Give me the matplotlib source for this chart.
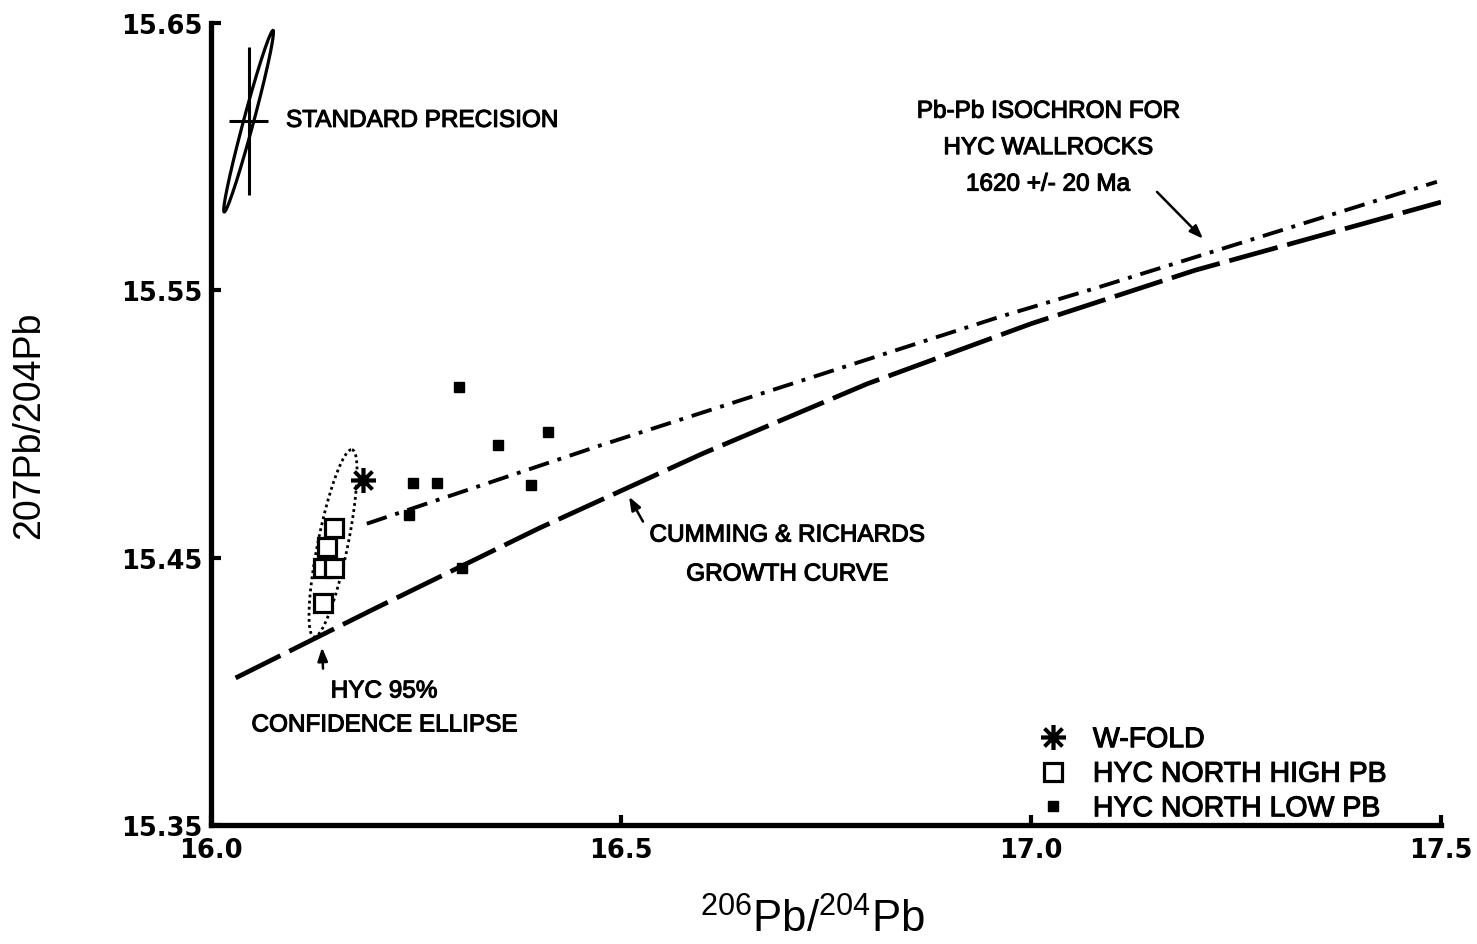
import numpy as np
import matplotlib
matplotlib.use("Agg")
import matplotlib.pyplot as plt
import matplotlib.patheffects as pe

# Cumming & Richards growth curve
growth_x = [16.03, 16.20, 16.40, 16.60, 16.80, 17.00, 17.20, 17.50]
growth_y = [15.405, 15.431, 15.461, 15.489, 15.515, 15.5375, 15.5575, 15.583]

# Pb-Pb isochron for HYC wallrocks
iso_x = [16.19, 16.474, 16.962, 17.084, 17.495]
iso_y = [15.4627, 15.4919, 15.5401, 15.5513, 15.5906]

# samples
wfold_x = [16.185]
wfold_y = [15.479]
high_x = [16.150, 16.141, 16.137, 16.150, 16.137]
high_y = [15.461, 15.454, 15.446, 15.446, 15.433]
low_x = [16.302, 16.350, 16.411, 16.246, 16.276, 16.390, 16.241, 16.306]
low_y = [15.514, 15.492, 15.497, 15.478, 15.478, 15.477, 15.466, 15.446]

# standard precision: centre, error bars, ellipse semi-axes (data units)
prec_center = (16.0458, 15.6132)
prec_err = (0.0238, 0.0277)
prec_major = (0.0297, 0.0339)
prec_minor = (0.0059, -0.0005)

# HYC 95% confidence ellipse
conf_center = (16.1488, 15.4554)
conf_major = (0.0232, 0.0350)
conf_minor = (0.0179, -0.0011)


def ellipse_xy(center, major, minor, n=300):
    t = np.linspace(0, 2 * np.pi, n)
    x = center[0] + np.cos(t) * major[0] + np.sin(t) * minor[0]
    y = center[1] + np.cos(t) * major[1] + np.sin(t) * minor[1]
    return x, y


plt.rcParams["mathtext.fontset"] = "custom"
plt.rcParams["mathtext.rm"] = "Liberation Sans"
plt.rcParams["mathtext.it"] = "Liberation Sans"

fig = plt.figure(figsize=(14.77, 9.45), dpi=100)
ax = fig.add_axes([0.14286, 0.12593, 0.83277, 0.84868])

ax.plot(growth_x, growth_y, color="black", lw=3.4, dashes=(10.6, 2.1))
ax.plot(iso_x, iso_y, color="black", lw=2.8, dashes=(5.4, 2.3, 1.0, 2.3))

ex, ey = ellipse_xy(conf_center, conf_major, conf_minor)
ax.plot(ex, ey, color="black", lw=2.0, dashes=(1, 1.2))

px, py = ellipse_xy(prec_center, prec_major, prec_minor)
ax.plot(px, py, color="black", lw=2.3, clip_on=False)
ax.errorbar([prec_center[0]], [prec_center[1]], xerr=[prec_err[0]], yerr=[prec_err[1]],
            fmt="none", ecolor="black", elinewidth=2.2, capsize=0, clip_on=False)

h_low, = ax.plot(low_x, low_y, ls="none", marker="s", ms=6.5, color="black",
                 label="HYC NORTH LOW PB")
h_high, = ax.plot(high_x, high_y, ls="none", marker="s", ms=13, mfc="white",
                  mec="black", mew=2.3, label="HYC NORTH HIGH PB")
h_wfold, = ax.plot(wfold_x, wfold_y, ls="none", marker=(8, 2, 0), ms=18,
                   color="black", mew=2.6, label="W-FOLD")

ax.set_xlim(16.0, 17.5)
ax.set_ylim(15.35, 15.65)
ax.set_xticks([16.0, 16.5, 17.0, 17.5])
ax.set_xticklabels(["16.0", "16.5", "17.0", "17.5"])
ax.set_yticks([15.35, 15.45, 15.55, 15.65])
ax.set_yticklabels(["15.35", "15.45", "15.55", "15.65"])

for s in ["top", "right"]:
    ax.spines[s].set_visible(False)
for s in ["left", "bottom"]:
    ax.spines[s].set_linewidth(3.8)
ax.tick_params(axis="both", direction="in", length=7, width=3, labelsize=18.5)
ax.tick_params(axis="x", pad=9)
ax.tick_params(axis="y", pad=6)
for lab in ax.get_xticklabels() + ax.get_yticklabels():
    lab.set_fontweight("bold")
    lab.set_family("DejaVu Sans")

stroke = [pe.withStroke(linewidth=0.8, foreground="black")]
txt = dict(family="Liberation Sans", fontsize=17.5, color="black", path_effects=stroke)

ax.text(16.0915, 15.6134, "STANDARD PRECISION", ha="left", va="center", **txt)
ax.text(16.211, 15.3936, "HYC 95%\nCONFIDENCE ELLIPSE", ha="center", va="center",
        linespacing=1.7, **txt)
ax.text(16.7024, 15.4510, "CUMMING & RICHARDS\nGROWTH CURVE", ha="center", va="center",
        linespacing=2.0, **txt)
ax.text(17.0207, 15.6032, "Pb-Pb ISOCHRON FOR\nHYC WALLROCKS\n1620 +/- 20 Ma",
        ha="center", va="center", linespacing=1.85, **txt)

arrow = dict(arrowstyle="-|>,head_length=0.8,head_width=0.3", color="black", lw=1.8,
             shrinkA=0, shrinkB=0)
ax.annotate("", xy=(16.1354, 15.4164), xytext=(16.1366, 15.4085), arrowprops=arrow)
ax.annotate("", xy=(16.5098, 15.4728), xytext=(16.5268, 15.4635), arrowprops=arrow)
ax.annotate("", xy=(17.2098, 15.5693), xytext=(17.1537, 15.5868), arrowprops=arrow)

leg = ax.legend(handles=[h_wfold, h_high, h_low], loc="upper left",
                bbox_to_anchor=(0.673, 0.122), frameon=False, borderpad=0,
                borderaxespad=0, handlelength=1.0, handletextpad=0.9,
                labelspacing=0.3, prop={"family": "Liberation Sans", "size": 20.5})
for t in leg.get_texts():
    t.set_path_effects(stroke)

fig.text(0.0196, 0.5503, "207Pb/204Pb", rotation=90, ha="center", va="center",
         family="Liberation Sans", fontsize=27)
fig.text(0.5498, 0.0265, r"$^{206}$Pb/$^{204}$Pb", ha="center", va="center",
         family="Liberation Sans", fontsize=31.5)

fig.savefig("out.png", dpi=100)
